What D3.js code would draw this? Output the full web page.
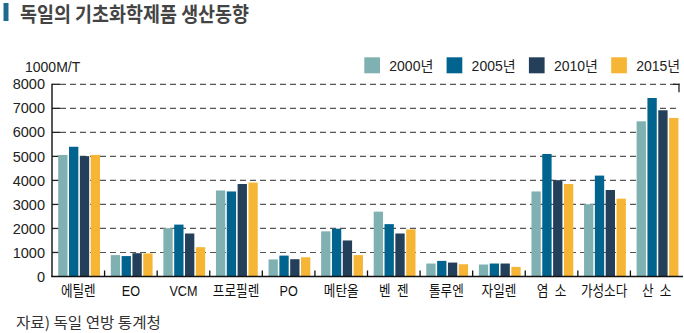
<!DOCTYPE html>
<html><head><meta charset="utf-8">
<script src="https://cdn.jsdelivr.net/npm/d3@7"></script>
<style>
html,body{margin:0;padding:0;background:#fff;}
svg{display:block;}
</style>
</head><body>
<svg id="chart" width="684" height="333"></svg>
<script>
const categories = ["에틸렌","EO","VCM","프로필렌","PO","메탄올","벤 젠","톨루엔","자일렌","염 소","가성소다","산 소"];
const seriesNames = ["2000년","2005년","2010년","2015년"];
const v2000 = [5060, 890, 2010, 3580, 710, 1880, 2700, 540, 500, 3540, 3010, 6460];
const v2005 = [5400, 850, 2160, 3540, 870, 1990, 2180, 650, 540, 5100, 4200, 7430];
const v2010 = [5010, 970, 1790, 3850, 720, 1500, 1790, 580, 540, 4010, 3600, 6920];
const v2015 = [5060, 960, 1220, 3910, 800, 890, 1960, 510, 400, 3850, 3240, 6600];
const yTicks = [0,1000,2000,3000,4000,5000,6000,7000,8000];
const colors = ["#80b1b2","#00648f","#243f59","#f6b535"];
const seriesValues = [v2000, v2005, v2010, v2015];

(function(){
const svg = d3.select("#chart");
const pLeft = 52, pRight = 683, pTop = 84.3, pBottom = 276.5;

const x = d3.scaleBand().domain(categories).range([pLeft, pRight]).paddingInner(0).paddingOuter(0);
const xs = d3.scaleBand().domain(seriesNames).range([6.2, 48]).paddingInner(0.14).paddingOuter(0);
const y = d3.scaleLinear().domain([0, 8000]).range([pBottom, pTop]);

// title
svg.append("rect").attr("x",3.5).attr("y",3).attr("width",5).attr("height",18).attr("fill","#1e6a8d");
svg.append("text").attr("transform","translate(20,21.5) scale(0.9,1)")
  .attr("font-family","'Noto Sans CJK KR', sans-serif").attr("font-size",20.5).attr("font-weight",700)
  .attr("fill","#444").text("독일의 기초화학제품 생산동향");

// unit
svg.append("text").attr("x",25).attr("y",72).attr("font-family","'Liberation Sans', Arial, sans-serif")
  .attr("font-size",14).attr("fill","#222").text("1000M/T");

// legend
const lg = svg.append("g");
seriesNames.forEach((s,i)=>{
  const lx = 364.3 + i*82.3;
  lg.append("rect").attr("x",lx).attr("y",57.3).attr("width",15.7).attr("height",16).attr("fill",colors[i]);
  lg.append("text").attr("x",lx+25).attr("y",70.5)
    .attr("font-family","'Liberation Sans','Noto Sans CJK KR', sans-serif").attr("font-size",14)
    .attr("fill","#222").text(s);
});

// gridlines
const grid = svg.append("g");
yTicks.filter(t=>t>0).forEach(t=>{
  grid.append("line").attr("x1",pLeft+8).attr("x2",679).attr("y1",y(t)).attr("y2",y(t))
    .attr("stroke","#555").attr("stroke-width",1.2).attr("stroke-dasharray","6,4");
  grid.append("line").attr("x1",pLeft).attr("x2",pLeft+8).attr("y1",y(t)).attr("y2",y(t))
    .attr("stroke","#222").attr("stroke-width",1.3);
});
// top-right corner tick
svg.append("line").attr("x1",679).attr("x2",679).attr("y1",y(8000)-0.6).attr("y2",y(8000)+8)
  .attr("stroke","#222").attr("stroke-width",1.3);
svg.append("line").attr("x1",673).attr("x2",679.6).attr("y1",y(8000)).attr("y2",y(8000))
  .attr("stroke","#222").attr("stroke-width",1.3);

// y axis labels
const yAxis = d3.axisLeft(y).tickValues(yTicks).tickSize(0).tickPadding(7).tickFormat(d3.format("d"));
const ya = svg.append("g").attr("transform",`translate(${pLeft},0)`).call(yAxis);
ya.select(".domain").remove();
ya.selectAll("text").attr("font-family","'Liberation Sans', Arial, sans-serif").attr("font-size",14.5)
  .attr("fill","#222");

// bars
const groups = svg.append("g").selectAll("g").data(categories).join("g")
  .attr("transform",d=>`translate(${x(d)},0)`);
groups.selectAll("rect").data((d,ci)=>seriesNames.map((s,si)=>({s, v: seriesValues[si][ci], si})))
  .join("rect")
  .attr("x",d=>xs(d.s)).attr("width",xs.bandwidth())
  .attr("y",d=>y(d.v)).attr("height",d=>y(0)-y(d.v))
  .attr("fill",d=>colors[d.si]);

// axes lines
svg.append("line").attr("x1",pLeft).attr("x2",pLeft).attr("y1",y(8000)-0.6).attr("y2",pBottom+0.6)
  .attr("stroke","#111").attr("stroke-width",1.4);
svg.append("line").attr("x1",pLeft-0.7).attr("x2",pRight).attr("y1",pBottom).attr("y2",pBottom)
  .attr("stroke","#111").attr("stroke-width",1.4);
// x ticks between categories (inward)
categories.slice(1).forEach(c=>{
  svg.append("line").attr("x1",x(c)).attr("x2",x(c)).attr("y1",pBottom-6).attr("y2",pBottom)
    .attr("stroke","#111").attr("stroke-width",1.3);
});

// x labels
svg.append("g").selectAll("text").data(categories).join("text")
  .attr("transform",d=>`translate(${x(d)+x.bandwidth()/2},296) scale(0.87,1)`)
  .attr("text-anchor","middle")
  .attr("font-family","'Liberation Sans','Noto Sans CJK KR', sans-serif").attr("font-size",14.5)
  .attr("fill","#111").text(d=>d.replace(" ","\u2002"));

// source
svg.append("text").attr("transform","translate(16,328) scale(1.04,1)")
  .attr("font-family","'Noto Sans CJK KR', sans-serif").attr("font-size",15)
  .attr("fill","#333").text("자료) 독일 연방 통계청");
})();
</script>
</body></html>
